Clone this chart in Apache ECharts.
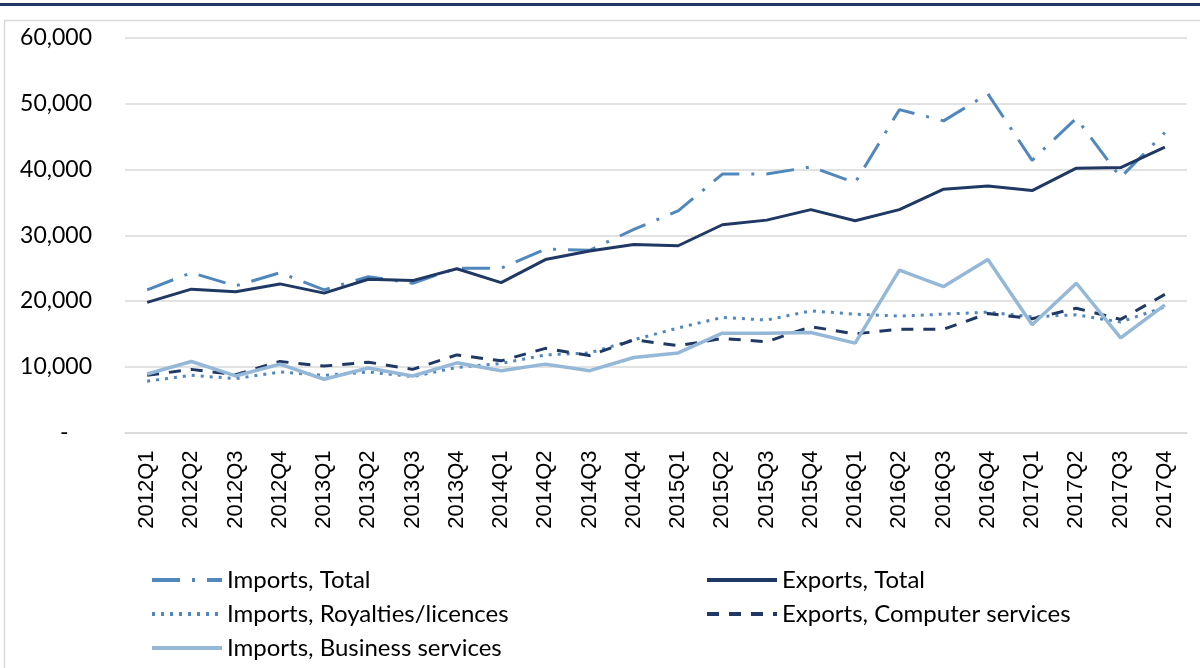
<!DOCTYPE html>
<html>
<head>
<meta charset="utf-8">
<script src="https://cdn.jsdelivr.net/npm/echarts@6/dist/echarts.min.js"></script>
<style>
	html, body { margin: 0; padding: 0; background: #fff; }
	#chart { width: 1200px; height: 668px; }
</style>
</head>
<body>
<div id="chart"></div>
<script>
	// quarters on the x axis
	var quarters = ['2012Q1', '2012Q2', '2012Q3', '2012Q4', '2013Q1', '2013Q2', '2013Q3', '2013Q4',
		'2014Q1', '2014Q2', '2014Q3', '2014Q4', '2015Q1', '2015Q2', '2015Q3', '2015Q4',
		'2016Q1', '2016Q2', '2016Q3', '2016Q4', '2017Q1', '2017Q2', '2017Q3', '2017Q4'];

	var importsTotal = [21700, 24300, 22300, 24300, 21700, 23700, 22700, 25000,
		25000, 27900, 27700, 30900, 33700, 39300, 39300, 40400,
		38000, 49100, 47400, 51500, 41400, 47800, 38800, 45600];
	var exportsTotal = [19800, 21800, 21400, 22600, 21200, 23300, 23100, 24900,
		22800, 26300, 27600, 28600, 28400, 31600, 32300, 33900,
		32200, 33900, 37000, 37500, 36800, 40200, 40300, 43400];
	var importsRoyalties = [7800, 8700, 8200, 9200, 8700, 9200, 8500, 9900,
		10500, 11800, 12100, 14100, 15900, 17500, 17100, 18500,
		18000, 17700, 18000, 18300, 17600, 17900, 16800, 19100];
	var exportsComputer = [8700, 9600, 8800, 10800, 10100, 10700, 9600, 11800,
		10900, 12800, 11700, 14100, 13200, 14300, 13800, 16100,
		15000, 15700, 15700, 18100, 17300, 18900, 17200, 21000];
	var importsBusiness = [8900, 10800, 8600, 10400, 8100, 9800, 8600, 10600,
		9400, 10400, 9400, 11400, 12100, 15100, 15100, 15200,
		13600, 24700, 22200, 26300, 16400, 22700, 14400, 19400];

	var yTicks = [0, 10000, 20000, 30000, 40000, 50000, 60000];

	var mychart = echarts.init(document.getElementById('chart'));

	// line styles per series, shared by series and legend
	var styles = {
		'Imports, Total': { color: '#5087BD', width: 3, type: [28, 12, 3, 12] },
		'Exports, Total': { color: '#1F3864', width: 3, type: 'solid' },
		'Imports, Royalties/licences': { color: '#5087BD', width: 3, type: [3, 6] },
		'Exports, Computer services': { color: '#1F3864', width: 3, type: [12, 10] },
		'Imports, Business services': { color: '#95B8D8', width: 3.5, type: 'solid' }
	};

	function lineSeries(name, data) {
		var s = styles[name];
		return {
			name: name,
			type: 'line',
			data: data,
			symbol: 'none',
			smooth: false,
			lineStyle: { color: s.color, width: s.width, type: s.type, cap: 'butt' },
			itemStyle: { color: s.color }
		};
	}

	function legendItem(name) {
		var s = styles[name];
		return {
			name: name,
			itemStyle: { opacity: 0 },
			lineStyle: { color: s.color, width: 4, type: s.type, cap: 'butt' }
		};
	}

	var legendBase = {
		orient: 'vertical',
		top: 563,
		itemWidth: 70,
		itemHeight: 14,
		itemGap: 10,
		itemStyle: { opacity: 0 },
		textStyle: { color: '#000', fontFamily: 'Lato', fontSize: 24, lineHeight: 24 }
	};

	var option = {
		animation: false,
		backgroundColor: '#fff',
		graphic: [
			{ type: 'rect', shape: { x: 0, y: 3, width: 1200, height: 3 }, style: { fill: '#1F3864' } },
			{ type: 'rect', shape: { x: 4.5, y: 20.5, width: 1210, height: 700 }, style: { fill: 'none', stroke: '#D9D9D9', lineWidth: 1.5 } }
		],
		grid: { left: 125, right: 13, top: 38, bottom: 235.5 },
		xAxis: {
			type: 'category',
			data: quarters,
			boundaryGap: true,
			axisTick: { show: false },
			axisLine: { show: true, lineStyle: { color: '#D9D9D9', width: 1.5 } },
			axisLabel: {
				rotate: 90,
				margin: 18,
				interval: 0,
				color: '#000',
				fontFamily: 'Liberation Sans',
				fontSize: 22
			}
		},
		yAxis: {
			type: 'value',
			min: yTicks[0],
			max: yTicks[yTicks.length - 1],
			interval: 10000,
			axisLine: { show: false },
			axisTick: { show: false },
			splitLine: { lineStyle: { color: '#D9D9D9', width: 1.5 } },
			axisLabel: {
				margin: 33,
				color: '#000',
				fontFamily: 'Lato',
				fontSize: 23,
				formatter: function (v) {
					if (v === 0) return '-    ';
					return v.toLocaleString('en-US');
				}
			}
		},
		legend: [
			Object.assign({}, legendBase, {
				left: 145,
				data: ['Imports, Total', 'Imports, Royalties/licences', 'Imports, Business services'].map(legendItem)
			}),
			Object.assign({}, legendBase, {
				left: 700,
				data: ['Exports, Total', 'Exports, Computer services'].map(legendItem)
			})
		],
		series: [
			lineSeries('Imports, Total', importsTotal),
			lineSeries('Exports, Total', exportsTotal),
			lineSeries('Imports, Royalties/licences', importsRoyalties),
			lineSeries('Exports, Computer services', exportsComputer),
			lineSeries('Imports, Business services', importsBusiness)
		]
	};
	mychart.setOption(option);
</script>
</body>
</html>
